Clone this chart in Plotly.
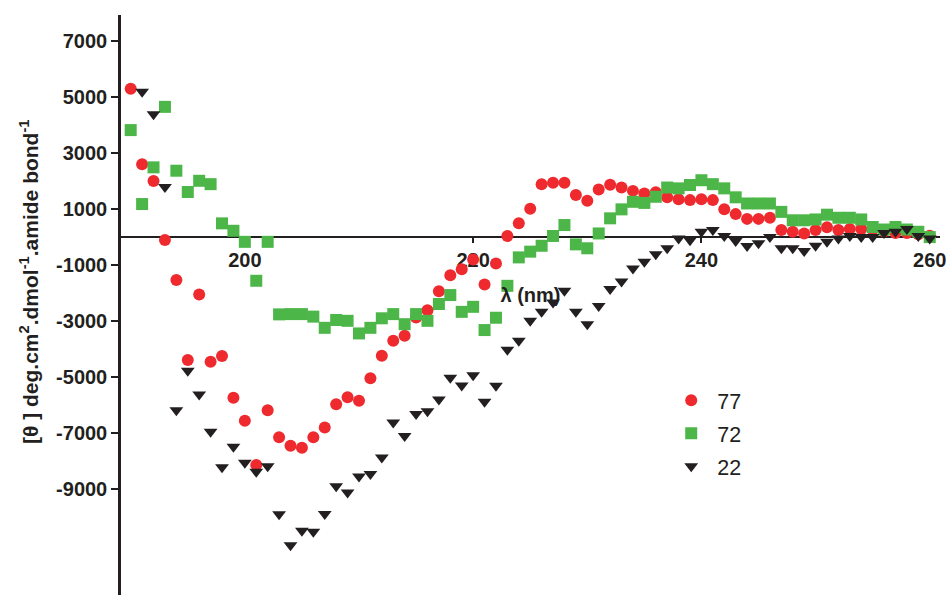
import plotly.graph_objects as go

wavelength = list(range(190, 261))

s77 = [5300, 2600, 2000, -100, -1530, -4390, -2050, -4450, -4250, -5740,
       -6560, -8140, -6180, -7150, -7450, -7520, -7150, -6800, -5970, -5720,
       -5840, -5040, -4240, -3700, -3520, -2870, -2610, -1930, -1360, -1150,
       -800, -1690, -940, 40, 490, 1010, 1890, 1940, 1940, 1500,
       1300, 1700, 1870, 1770, 1650, 1560, 1600, 1420, 1350, 1320,
       1350, 1320, 990, 820, 650, 650, 690, 250, 190, 130,
       250, 350, 250, 290, 290, 250, 200, 150, 150, 100, 50]

s72 = [3820, 1180, 2490, 4650, 2370, 1610, 2010, 1890, 490, 225,
       -170, -1560, -170, -2760, -2750, -2750, -2840, -3240, -2960, -2990,
       -3440, -3240, -2900, -2750, -3110, -2750, -2990, -2390, -2070, -2670,
       -2490, -3320, -2880, -1740, -725, -520, -310, 40, 430, -260,
       -400, 130, 670, 990, 1260, 1220, 1440, 1770, 1740, 1860,
       2030, 1890, 1740, 1420, 1200, 1200, 1200, 900, 600, 600,
       630, 800, 690, 690, 630, 360, 270, 360, 270, 190, 0]

wavelength22 = list(range(191, 261))
s22 = [5190, 4390, 1790, -6180, -4770, -5620, -6950, -8220, -7490,
       -8060, -8380, -8180, -9900, -11000, -10490, -10520, -9890, -8900, -9120,
       -8550, -8460, -7870, -6620, -7100, -6320, -6220, -5800, -5020, -5300,
       -4930, -5880, -5310, -4020, -3700, -2990, -2670, -2340, -1920, -2670,
       -3110, -2460, -1850, -1590, -1120, -880, -610, -400, -50, -110,
       190, 250, 40, -140, -320, -220, 0, -400, -400, -500,
       -310, -170, -50, 40, 0, 0, 150, 190, 290, 40, -50]

ytick_vals = [7000, 5000, 3000, 1000, -1000, -3000, -5000, -7000, -9000]
ytick_text = [str(v) for v in ytick_vals]
xtick_vals = [200, 220, 240, 260]
y_title = "[θ ] deg.cm<sup>2</sup>.dmol<sup>-1</sup>.amide bond<sup>-1</sup>"
x_title = "λ (nm)"

FONT = "Liberation Sans, Arial, Helvetica, sans-serif"
INK = "#231f20"
YMIN, YMAX = -12780, 7930

fig = go.Figure()
fig.add_trace(go.Scatter(x=wavelength, y=s77, mode="markers", name="77", legendgroup="a",
                         marker=dict(symbol="circle", size=12, color="#ee2a2f")))
fig.add_trace(go.Scatter(x=wavelength, y=s72, mode="markers", name="72", legendgroup="b",
                         marker=dict(symbol="square", size=12, color="#4cb748")))
fig.add_trace(go.Scatter(x=wavelength22, y=s22, mode="markers", name="22", legendgroup="c",
                         marker=dict(symbol="triangle-down", size=12, color=INK)))

fig.update_layout(
    width=952, height=595,
    margin=dict(l=121, r=12, t=15, b=0, autoexpand=False),
    paper_bgcolor="white", plot_bgcolor="white",
    font=dict(family=FONT, color=INK),
    showlegend=True,
    legend=dict(x=0.6645, y=0.371, xanchor="left", yanchor="top",
                bgcolor="rgba(0,0,0,0)", font=dict(size=21.5, color=INK),
                itemwidth=42, tracegroupgap=2),
    xaxis=dict(range=[189.15, 260.9], anchor="free",
               position=(0 - YMIN) / (YMAX - YMIN), automargin=False,
               tickvals=xtick_vals, ticks="outside", ticklen=5, tickwidth=2,
               tickcolor=INK,
               showline=True, linewidth=2, linecolor=INK,
               showgrid=False, zeroline=False, layer="below traces",
               tickfont=dict(size=20, weight="bold", color=INK),
               title=dict(text=x_title, font=dict(size=20, weight="bold", color=INK),
                          standoff=17)),
    yaxis=dict(range=[YMIN, YMAX], tickvals=ytick_vals, ticktext=ytick_text,
               automargin=False,
               ticks="outside", ticklen=7, tickwidth=2, tickcolor=INK,
               showline=True, linewidth=2.5, linecolor=INK,
               showgrid=False, zeroline=False,
               tickfont=dict(size=20, weight="bold", color=INK)),
    annotations=[dict(text=y_title, textangle=-90, xref="paper", yref="paper",
                      x=(29 - 121) / 819, y=(595 - 282) / 580,
                      xanchor="center", yanchor="middle", showarrow=False,
                      font=dict(size=21, weight="bold", color=INK))],
)

fig.write_html("out.html", config={"displayModeBar": False},
               post_script="document.body.style.margin='0px';")
